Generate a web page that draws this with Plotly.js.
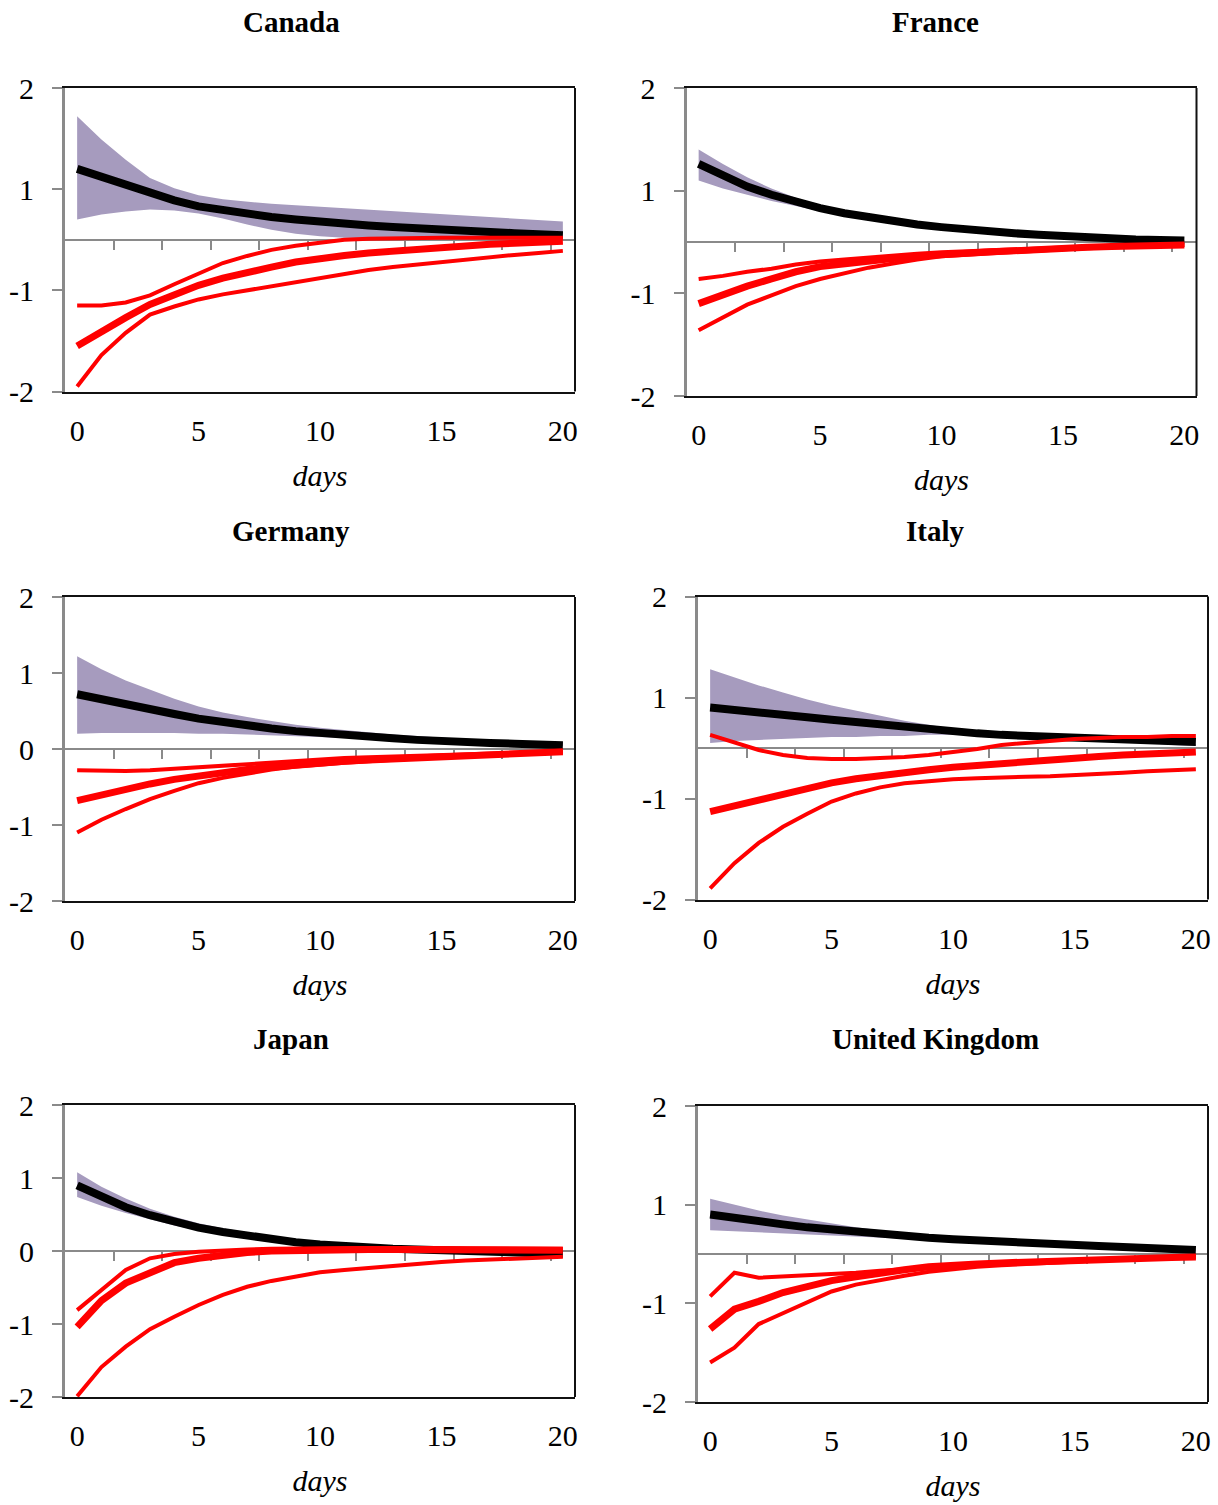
<!DOCTYPE html>
<html>
<head>
<meta charset="utf-8">
<script src="https://cdn.plot.ly/plotly-3.0.1.min.js"></script>
<style>html,body{margin:0;padding:0;background:#fff;}#chart{width:1218px;height:1505px;}</style>
</head>
<body>
<div id="chart"></div>
<script>
const days = [0,1,2,3,4,5,6,7,8,9,10,11,12,13,14,15,16,17,18,19,20];

// Canada
const canadaBandLow  = [0.20,0.25,0.28,0.30,0.29,0.26,0.21,0.15,0.10,0.06,0.035,0.02,0.015,0.01,0.01,0.01,0.01,0.01,0.01,0.01,0.01];
const canadaBandHigh = [1.22,0.99,0.79,0.61,0.51,0.44,0.40,0.375,0.355,0.34,0.325,0.31,0.30,0.285,0.27,0.255,0.24,0.225,0.21,0.195,0.18];
const canadaBlack    = [0.70,0.62,0.54,0.46,0.39,0.33,0.29,0.255,0.225,0.20,0.175,0.155,0.14,0.125,0.11,0.095,0.085,0.075,0.065,0.055,0.045];
const canadaRedHigh  = [-0.65,-0.65,-0.62,-0.55,-0.44,-0.34,-0.23,-0.16,-0.10,-0.06,-0.03,0.0,0.01,0.015,0.02,0.02,0.02,0.02,0.02,0.02,0.02];
const canadaRedMid   = [-1.05,-0.90,-0.77,-0.64,-0.54,-0.45,-0.38,-0.32,-0.27,-0.22,-0.18,-0.155,-0.13,-0.11,-0.09,-0.07,-0.06,-0.045,-0.035,-0.025,-0.015];
const canadaRedLow   = [-1.45,-1.14,-0.92,-0.74,-0.66,-0.59,-0.54,-0.50,-0.46,-0.42,-0.38,-0.34,-0.30,-0.27,-0.245,-0.22,-0.195,-0.17,-0.15,-0.13,-0.11];

// France
const franceBandLow  = [0.60,0.52,0.46,0.40,0.35,0.30,0.26,0.225,0.19,0.16,0.14,0.115,0.095,0.08,0.065,0.05,0.04,0.03,0.02,0.015,0.01];
const franceBandHigh = [0.90,0.76,0.63,0.52,0.43,0.355,0.295,0.25,0.21,0.18,0.15,0.125,0.105,0.09,0.075,0.06,0.05,0.04,0.03,0.025,0.02];
const franceBlack    = [0.76,0.64,0.54,0.46,0.39,0.33,0.28,0.24,0.20,0.17,0.145,0.12,0.10,0.085,0.07,0.055,0.045,0.035,0.025,0.02,0.015];
const franceRedHigh  = [-0.36,-0.33,-0.29,-0.26,-0.22,-0.19,-0.17,-0.15,-0.13,-0.115,-0.10,-0.09,-0.08,-0.07,-0.06,-0.05,-0.045,-0.04,-0.035,-0.03,-0.03];
const franceRedMid   = [-0.60,-0.51,-0.43,-0.36,-0.29,-0.24,-0.21,-0.18,-0.16,-0.14,-0.12,-0.105,-0.095,-0.085,-0.07,-0.06,-0.05,-0.045,-0.04,-0.035,-0.03];
const franceRedLow   = [-0.86,-0.73,-0.61,-0.52,-0.43,-0.36,-0.30,-0.25,-0.21,-0.17,-0.14,-0.125,-0.11,-0.095,-0.08,-0.07,-0.06,-0.05,-0.04,-0.035,-0.03];

// Germany
const germanyBandLow  = [0.20,0.21,0.21,0.21,0.21,0.20,0.20,0.19,0.18,0.17,0.16,0.15,0.135,0.12,0.105,0.09,0.08,0.07,0.06,0.05,0.04];
const germanyBandHigh = [1.22,1.05,0.90,0.78,0.66,0.56,0.48,0.42,0.37,0.32,0.28,0.25,0.22,0.19,0.17,0.15,0.13,0.11,0.10,0.09,0.08];
const germanyBlack    = [0.72,0.65,0.58,0.52,0.46,0.40,0.35,0.31,0.27,0.235,0.205,0.18,0.16,0.14,0.12,0.10,0.09,0.08,0.07,0.06,0.05];
const germanyRedHigh  = [-0.28,-0.29,-0.29,-0.28,-0.26,-0.23,-0.21,-0.19,-0.17,-0.15,-0.13,-0.12,-0.11,-0.10,-0.09,-0.08,-0.07,-0.06,-0.05,-0.04,-0.03];
const germanyRedMid   = [-0.68,-0.60,-0.53,-0.46,-0.40,-0.35,-0.30,-0.27,-0.24,-0.21,-0.18,-0.16,-0.145,-0.13,-0.115,-0.10,-0.085,-0.07,-0.055,-0.045,-0.035];
const germanyRedLow   = [-1.10,-0.93,-0.79,-0.66,-0.55,-0.45,-0.38,-0.32,-0.27,-0.23,-0.20,-0.18,-0.16,-0.14,-0.12,-0.10,-0.085,-0.07,-0.06,-0.05,-0.04];

// Italy
const italyBandLow  = [0.05,0.07,0.08,0.09,0.10,0.11,0.11,0.12,0.12,0.13,0.13,0.13,0.12,0.12,0.11,0.10,0.09,0.07,0.05,0.03,0.02];
const italyBandHigh = [0.78,0.70,0.62,0.55,0.48,0.42,0.37,0.32,0.27,0.23,0.19,0.17,0.15,0.13,0.12,0.10,0.09,0.08,0.06,0.05,0.04];
const italyBlack    = [0.40,0.38,0.355,0.33,0.305,0.28,0.255,0.23,0.205,0.18,0.16,0.145,0.13,0.12,0.11,0.10,0.09,0.08,0.07,0.065,0.06];
const italyRedHigh  = [0.13,0.05,-0.02,-0.07,-0.10,-0.11,-0.11,-0.10,-0.09,-0.07,-0.04,-0.01,0.03,0.05,0.07,0.09,0.10,0.11,0.11,0.12,0.12];
const italyRedMid   = [-0.63,-0.57,-0.51,-0.45,-0.395,-0.345,-0.305,-0.27,-0.24,-0.215,-0.19,-0.17,-0.15,-0.13,-0.115,-0.10,-0.085,-0.07,-0.06,-0.05,-0.04];
const italyRedLow   = [-1.39,-1.14,-0.94,-0.78,-0.65,-0.53,-0.45,-0.39,-0.35,-0.33,-0.31,-0.30,-0.29,-0.285,-0.28,-0.27,-0.26,-0.245,-0.23,-0.22,-0.21];

// Japan
const japanBandLow  = [0.74,0.62,0.52,0.43,0.35,0.28,0.23,0.18,0.14,0.10,0.07,0.05,0.03,0.02,0.01,0.0,-0.01,-0.02,-0.03,-0.04,-0.05];
const japanBandHigh = [1.08,0.88,0.72,0.58,0.47,0.38,0.31,0.25,0.20,0.15,0.11,0.08,0.06,0.045,0.03,0.02,0.01,0.0,-0.01,-0.02,-0.03];
const japanBlack    = [0.90,0.74,0.60,0.49,0.40,0.32,0.26,0.21,0.16,0.12,0.09,0.065,0.045,0.03,0.02,0.01,0.0,-0.01,-0.02,-0.03,-0.04];
const japanRedHigh  = [-0.81,-0.53,-0.26,-0.10,-0.04,-0.01,0.01,0.02,0.03,0.035,0.04,0.04,0.04,0.04,0.04,0.04,0.035,0.035,0.03,0.03,0.03];
const japanRedMid   = [-1.04,-0.68,-0.44,-0.29,-0.16,-0.10,-0.05,-0.02,0.0,0.01,0.02,0.02,0.02,0.02,0.02,0.02,0.02,0.015,0.01,0.01,0.01];
const japanRedLow   = [-1.99,-1.59,-1.31,-1.07,-0.90,-0.74,-0.60,-0.49,-0.41,-0.35,-0.29,-0.26,-0.23,-0.20,-0.17,-0.15,-0.13,-0.12,-0.11,-0.09,-0.08];

// United Kingdom
const ukBandLow  = [0.24,0.23,0.22,0.21,0.20,0.19,0.18,0.17,0.16,0.15,0.135,0.12,0.11,0.10,0.09,0.08,0.07,0.06,0.05,0.04,0.035];
const ukBandHigh = [0.56,0.50,0.44,0.39,0.35,0.31,0.27,0.24,0.21,0.185,0.165,0.145,0.13,0.115,0.105,0.095,0.085,0.075,0.065,0.055,0.045];
const ukBlack    = [0.40,0.36,0.33,0.30,0.27,0.245,0.225,0.205,0.185,0.165,0.15,0.135,0.12,0.11,0.10,0.09,0.08,0.07,0.06,0.05,0.04];
const ukRedHigh  = [-0.43,-0.19,-0.24,-0.23,-0.22,-0.20,-0.19,-0.17,-0.155,-0.14,-0.12,-0.11,-0.10,-0.09,-0.08,-0.065,-0.055,-0.045,-0.035,-0.03,-0.02];
const ukRedMid   = [-0.76,-0.56,-0.48,-0.39,-0.33,-0.27,-0.23,-0.19,-0.16,-0.13,-0.11,-0.10,-0.09,-0.08,-0.07,-0.06,-0.05,-0.045,-0.04,-0.035,-0.03];
const ukRedLow   = [-1.10,-0.95,-0.71,-0.60,-0.48,-0.38,-0.31,-0.26,-0.22,-0.18,-0.15,-0.13,-0.115,-0.10,-0.09,-0.08,-0.065,-0.055,-0.045,-0.035,-0.03];

const countries = ['Canada','France','Germany','Italy','Japan','United Kingdom'];
const xTickVals = [0,5,10,15,20];
const zeroTickVals = [1.5,3.5,5.5,7.5,9.5,11.5,13.5,15.5,17.5,19.5];
// Excel-style "0" number format on a -1.5..1.5 axis
const shiftedTickVals = [-1.5,-0.5,0.5,1.5];
const shiftedTickText = ['-2','-1','1','2'];
const plainTickVals = [-2,-1,0,1,2];
const plainTickText = ['-2','-1','0','1','2'];

const series = [
  [canadaBandLow, canadaBandHigh, canadaBlack, canadaRedHigh, canadaRedMid, canadaRedLow],
  [franceBandLow, franceBandHigh, franceBlack, franceRedHigh, franceRedMid, franceRedLow],
  [germanyBandLow, germanyBandHigh, germanyBlack, germanyRedHigh, germanyRedMid, germanyRedLow],
  [italyBandLow, italyBandHigh, italyBlack, italyRedHigh, italyRedMid, italyRedLow],
  [japanBandLow, japanBandHigh, japanBlack, japanRedHigh, japanRedMid, japanRedLow],
  [ukBandLow, ukBandHigh, ukBlack, ukRedHigh, ukRedMid, ukRedLow]
];

// layout geometry (pixels)
const W = 1218, H = 1505;
const boxes = [
  {l:65,  r:575,   t:88,  b:391.5, shifted:true,  titleX:291},
  {l:686.5,r:1196.5,t:88, b:396,   shifted:true,  titleX:935},
  {l:65,  r:575,   t:597, b:901,   shifted:false, titleX:291},
  {l:698, r:1208,  t:596.5,b:899.5,shifted:true,  titleX:935},
  {l:65,  r:575,   t:1105,b:1397,  shifted:false, titleX:291},
  {l:698, r:1208,  t:1106,b:1402,  shifted:true,  titleX:935}
];
const titleY = [22,22,531,531,1039,1039];

const GRAY = '#8a8a8a';
const BAND = '#a69bbe';
const RED = '#ff0000';
const tickFont = {family:'Liberation Serif', size:30, color:'#000'};

const traces = [];
const layout = {
  width:W, height:H, margin:{l:0,r:0,t:0,b:0},
  paper_bgcolor:'#fff', plot_bgcolor:'#fff', showlegend:false,
  font:{family:'Liberation Serif', color:'#000'},
  annotations:[], shapes:[]
};

boxes.forEach((bx, i) => {
  const n = i + 1;
  const zn = i + 7;
  const xa = 'x' + (n === 1 ? '' : n);
  const ya = 'y' + (n === 1 ? '' : n);
  const za = 'x' + zn;
  const rng = bx.shifted ? [-1.5, 1.5] : [-2, 2];
  const dx = [bx.l / W, bx.r / W];
  const dy = [1 - bx.b / H, 1 - bx.t / H];
  const zeroPos = dy[0] + (0 - rng[0]) / (rng[1] - rng[0]) * (dy[1] - dy[0]);
  const [lo, hi, blk, rH, rM, rL] = series[i];

  traces.push({x:days, y:lo, xaxis:xa, yaxis:ya, mode:'lines', line:{width:0, color:BAND}, hoverinfo:'skip'});
  traces.push({x:days, y:hi, xaxis:xa, yaxis:ya, mode:'lines', line:{width:0, color:BAND}, fill:'tonexty', fillcolor:BAND, hoverinfo:'skip'});
  traces.push({x:days, y:blk, xaxis:xa, yaxis:ya, mode:'lines', line:{width:8, color:'#000'}});
  traces.push({x:days, y:rH, xaxis:za, yaxis:ya, mode:'lines', line:{width:4, color:RED}});
  traces.push({x:days, y:rM, xaxis:za, yaxis:ya, mode:'lines', line:{width:7, color:RED}});
  traces.push({x:days, y:rL, xaxis:za, yaxis:ya, mode:'lines', line:{width:4, color:RED}});

  layout['xaxis' + (n === 1 ? '' : n)] = {
    domain:dx, anchor:ya, range:[-0.5, 20.5], fixedrange:true,
    tickvals:xTickVals, ticks:'', showgrid:false, zeroline:false,
    showline:true, linecolor:'#111', linewidth:2, mirror:true,
    tickfont:tickFont, ticklabelstandoff:11,
    title:{text:'<i>days</i>', font:{family:'Liberation Serif', size:30, color:'#000'}, standoff:19}
  };
  layout['xaxis' + zn] = {
    overlaying:xa, anchor:'free', position:zeroPos, range:[-0.5, 20.5], fixedrange:true,
    tickvals:zeroTickVals, ticks:'outside', ticklen:9, tickwidth:2, tickcolor:GRAY,
    showticklabels:false, showgrid:false, zeroline:false,
    showline:true, linecolor:GRAY, linewidth:2, layer:'below traces'
  };
  layout['yaxis' + (n === 1 ? '' : n)] = {
    domain:dy, anchor:xa, range:rng, fixedrange:true,
    tickvals: bx.shifted ? shiftedTickVals : plainTickVals,
    ticktext: bx.shifted ? shiftedTickText : plainTickText,
    ticks:'outside', ticklen:10, tickwidth:2, tickcolor:GRAY,
    showgrid:false, zeroline:false, showline:true, linecolor:GRAY, linewidth:3,
    tickfont:tickFont, ticklabelstandoff:12
  };
  layout.shapes.push({type:'line', xref:xa + ' domain', yref:ya + ' domain', x0:1, x1:1, y0:0, y1:1, line:{color:'#111', width:2}});
  layout.annotations.push({
    text:'<b>' + countries[i] + '</b>', xref:'paper', yref:'paper',
    x:bx.titleX / W, y:1 - titleY[i] / H, xanchor:'center', yanchor:'middle',
    showarrow:false, font:{family:'Liberation Serif', size:29, color:'#000'}
  });
});

Plotly.newPlot('chart', traces, layout, {staticPlot:true, displayModeBar:false});
</script>
</body>
</html>
